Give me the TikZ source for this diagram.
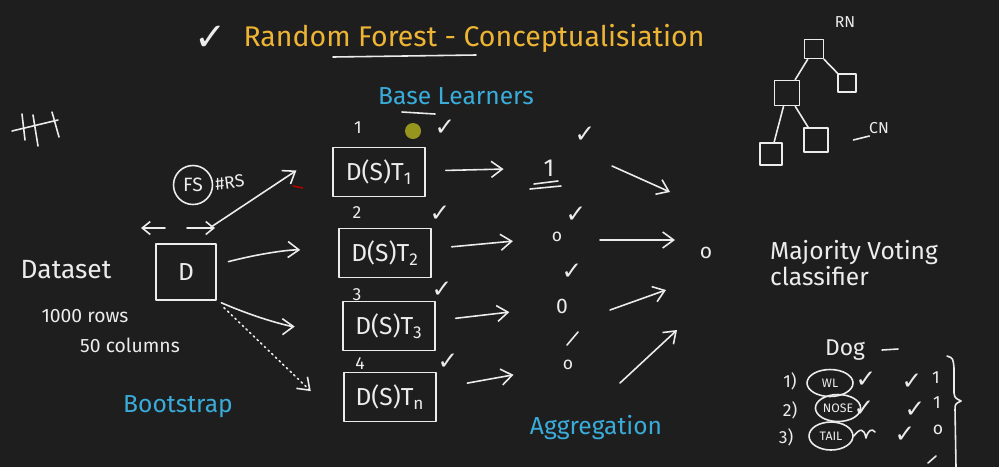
\documentclass[tikz,border=0pt]{standalone}
\usepackage{fontspec}
\setmainfont{Fira Sans}
\newfontfamily\symfont{DejaVu Sans}
\usetikzlibrary{arrows.meta,positioning,shapes.geometric,calc}
\definecolor{board}{RGB}{30,30,30}
\definecolor{chalk}{RGB}{236,236,236}
\definecolor{gold}{RGB}{238,180,52}
\definecolor{sky}{RGB}{58,172,218}
\definecolor{cursor}{RGB}{150,150,30}
\tikzset{
  ink/.style={draw=chalk, line width=0.9pt, line cap=round, line join=round},
  txt/.style={text=chalk, inner sep=1pt, font=\fontsize{14}{17}\selectfont},
  small/.style={text=chalk, inner sep=1pt, font=\fontsize{10}{12}\selectfont},
  head/.style={text=sky, inner sep=1pt, font=\fontsize{14}{17}\selectfont},
  lrn/.style={ink, minimum width=1.84cm, minimum height=0.98cm, inner sep=0pt,
              text=chalk, font=\fontsize{14}{17}\selectfont},
  leaf/.style={ink, minimum size=#1, inner sep=0pt},
  tk/.style={text=chalk, inner sep=0pt, font=\symfont\fontsize{14}{15}\selectfont},
  flow/.style={ink, -{Straight Barb[length=2.2mm,width=3.2mm]}},
  oval/.style={ink, ellipse, inner sep=0.5pt, text=chalk, font=\fontsize{7}{8}\selectfont},
}

\begin{document}
\begin{tikzpicture}[x=0.02cm, y=-0.02cm]
  \fill[board] (0,0) rectangle (999,467);
  \useasboundingbox (0,0) rectangle (999,467);
  % title
  \node[tk, font=\symfont\fontsize{22}{24}\selectfont] (tick0) at (211,38) {✓};
  \node[text=gold, inner sep=0pt, font=\fontsize{16.2}{19}\selectfont] (title) at (474,38) {Random Forest - Conceptualisiation};
  \draw[ink] (333,57) -- (476,55);
  \node[head] (base) at (456,96) {Base Learners};
  \draw[ink] (402,112) -- (435,114);
  % tally mark
  \draw[ink] (12,131) -- (58,120);
  \draw[ink] (22,114) -- (25,140);
  \draw[ink] (33,115) -- (38,146);
  \draw[ink] (52,112) -- (59,137);
  % dataset
  \node[txt, font=\fontsize{15}{17}\selectfont] (dataset) at (66,270) {Dataset};
  \node[small, font=\fontsize{11}{13}\selectfont] (rows) at (85,316) {1000 rows};
  \node[small, font=\fontsize{11}{13}\selectfont] (cols) at (130,345) {50 columns};
  \node[ink, minimum width=1.2cm, minimum height=1.12cm, text=chalk,
        font=\fontsize{14}{17}\selectfont] (d) at (186,272) {D};
  \node[head] (boot) at (178,407) {Bootstrap};
  \draw[ink, -{Straight Barb[length=1.6mm,width=2.6mm]}] ([shift={(-21,-44)}]d.center) -- ++(-24,0);
  \draw[ink, -{Straight Barb[length=1.6mm,width=2.6mm]}] ([shift={(1,-44)}]d.center) -- ++(28,0);
  \node[ink, circle, minimum size=0.78cm, inner sep=0pt, text=chalk,
        font=\fontsize{11}{13}\selectfont] (fs) at (193,185) {FS};
  \node[small, rotate=8, anchor=west] (rs) at (fs.east) {\#RS};
  \draw[red!70!black, line width=0.9pt] (293,186) -- (303,188);
  % base learners
  \node[lrn] (t1) at (379,172) {D(S)T\textsubscript{1}};
  \node[lrn] (t2) at (385,253) {D(S)T\textsubscript{2}};
  \node[lrn] (t3) at (389,326) {D(S)T\textsubscript{3}};
  \node[lrn] (tn) at (390,397) {D(S)T\textsubscript{n}};
  \node[small] (n1) at (358,128) {1};
  \node[small] (n2) at (357,213) {2};
  \node[small] (n3) at (357,295) {3};
  \node[small] (n4) at (360,364) {4};
  \fill[cursor] (413,131) circle (8);
  \node[tk] (c1) at (445,128) {✓};
  \node[tk] (c2) at (440,214) {✓};
  \node[tk] (c3) at (442,290) {✓};
  \node[tk] (c4) at (448,362) {✓};
  % bootstrap arrows
  \draw[flow, shorten >=0.86cm] ([shift={(-6,-16)}]d.north east) -- (t1.north west);
  \draw[flow, shorten <=0.24cm, shorten >=0.76cm] (d) to[bend left=8] (t2);
  \draw[flow, shorten <=0.1cm, shorten >=0.95cm] (d.south east) to[bend right=12] (t3.west);
  \draw[flow, dotted, shorten <=0.2cm, shorten >=0.9cm] (d.south east) -- (tn.south west);
  % outputs
  \node[txt] (out1) at (549,168) {1};
  \node[small] (out2) at (557,237) {o};
  \node[txt, font=\fontsize{12}{14}\selectfont] (out3) at (562,306) {0};
  \node[small] (out4) at (568,365) {o};
  \draw[ink] (534,184) -- (558,181);
  \draw[ink] (530,189) -- (561,186);
  \node[tk] (d1) at (585,135) {✓};
  \node[tk] (d2) at (576,215) {✓};
  \node[tk] (d3) at (572,272) {✓};
  \draw[ink] (567,345) -- (578,332);
  \draw[flow, shorten <=0.4cm, shorten >=0.76cm] (t1) -- (out1);
  \draw[flow, shorten <=0.4cm, shorten >=0.74cm] (t2) -- (out2);
  \draw[flow, shorten <=0.4cm, shorten >=0.9cm] (t3) -- (out3);
  \draw[flow, shorten <=0.62cm, shorten >=0.96cm] (tn) -- (out4);
  % aggregation
  \node[small, font=\fontsize{12}{14}\selectfont] (vote) at (706,253) {o};
  \draw[flow] ($(out1)+(63,-2)$) -- ($(vote)+(-36,-61)$);
  \draw[flow] ($(out2)+(43,3)$) -- ($(vote)+(-31,-13)$);
  \draw[flow] ($(out3)+(48,4)$) -- ($(vote)+(-40,37)$);
  \draw[flow] ($(out4)+(52,18)$) -- ($(vote)+(-29,77)$);
  \node[head] (agg) at (596,428) {Aggregation};
  \node[txt, align=left, anchor=west, font=\fontsize{14}{15}\selectfont] (mv) at (768,263) {Majority Voting\\classifier};
  % decision tree
  \node[small, font=\fontsize{9}{10}\selectfont] (rnl) at (845,22) {RN};
  \node[leaf=0.38cm] (rn) at (814,49) {};
  \node[leaf=0.5cm] (l1) at (787,93) {};
  \node[leaf=0.36cm] (r1) at (847,83) {};
  \node[leaf=0.44cm] (g1) at (771,154) {};
  \node[leaf=0.48cm] (g2) at (816,140) {};
  \draw[ink] (rn) -- (l1);
  \draw[ink] (rn) -- (r1);
  \draw[ink] (l1) -- (g1);
  \draw[ink] (l1) -- (g2);
  \draw[ink] ([xshift=14]g2.east) -- ++(16,-4);
  \node[small, font=\fontsize{9}{10}\selectfont] (cnl) at (879,128) {CN};
  % dog example
  \node[txt, font=\fontsize{13}{15}\selectfont] (dog) at (845,350) {Dog};
  \draw[ink] (882,350) -- (898,349);
  \node[small] (i1) at (790,381) {1)};
  \node[small] (i2) at (790,410) {2)};
  \node[small] (i3) at (786,437) {3)};
  \node[oval, minimum width=0.92cm, minimum height=0.54cm] (wl) at (830,383) {WL};
  \node[oval, minimum width=0.82cm, minimum height=0.54cm] (nose) at (838,408) {NOSE};
  \node[oval, minimum width=0.88cm, minimum height=0.56cm] (tail) at (831,436) {TAIL};
  \node[tk] (e1) at (866,380) {✓};
  \node[tk] (e2) at (864,409) {✓};
  \draw[ink] (tail.east) .. controls (860,428) and (864,428) .. (866,438) .. controls (868,430) and (872,428) .. (875,432);
  \node[tk] (f1) at (912,382) {✓};
  \node[tk] (f2) at (915,410) {✓};
  \node[tk] (f3) at (905,435) {✓};
  \node[small] (v1) at (936,378) {1};
  \node[small] (v2) at (937,403) {1};
  \node[small] (v3) at (938,430) {o};
  \draw[ink] (928,463) -- (936,456);
  \draw[ink] (947,356) .. controls (953,358) .. (954,368) -- (954,393)
    .. controls (955,398) .. (961,401) .. controls (955,404) .. (955,410) -- (956,467);
\end{tikzpicture}
\end{document}
